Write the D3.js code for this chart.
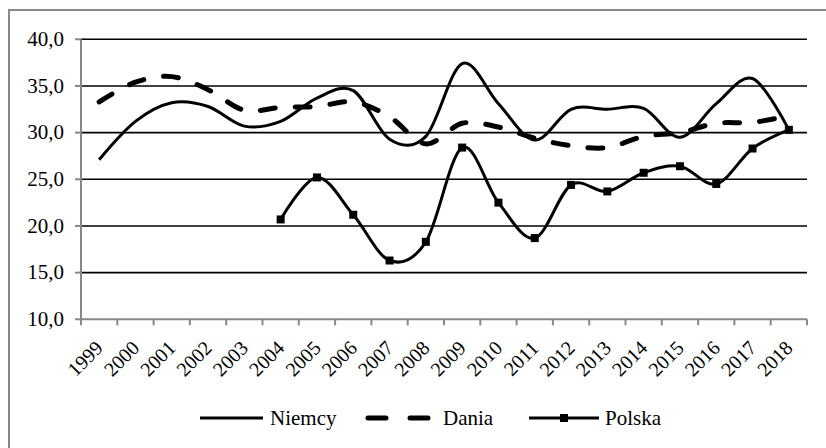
<!DOCTYPE html>
<html>
<head>
<meta charset="UTF-8">
<title>Niemcy, Dania, Polska</title>
<script src="https://d3js.org/d3.v7.min.js"></script>
<style>
  body { margin: 0; background: #fff; }
</style>
</head>
<body>
<svg id="chart" width="826" height="448" font-family="Liberation Serif"></svg>
<script>
// data
var years = ["1999","2000","2001","2002","2003","2004","2005","2006","2007","2008",
             "2009","2010","2011","2012","2013","2014","2015","2016","2017","2018"];
var niemcy = [27.1, 31.2, 33.2, 32.8, 30.7, 31.2, 33.7, 34.5, 29.3, 29.6,
              37.4, 33.1, 29.2, 32.5, 32.5, 32.6, 29.5, 33.1, 35.8, 30.3];
var dania  = [33.3, 35.4, 36.0, 34.6, 32.4, 32.7, 32.8, 33.3, 31.7, 28.8,
              31.0, 30.6, 29.4, 28.6, 28.4, 29.6, 30.0, 31.0, 31.1, 31.8];
var polska = [null, null, null, null, null, 20.7, 25.2, 21.2, 16.3, 18.3,
              28.4, 22.5, 18.7, 24.4, 23.7, 25.7, 26.4, 24.5, 28.3, 30.3];
var yTicks = [10, 15, 20, 25, 30, 35, 40];

var svg = d3.select("#chart");
var plotL = 81, plotR = 807, plotT = 39.3, plotB = 319.3;

// outer frame (only top and left edge visible in the picture)
svg.append("rect")
  .attr("x", 9).attr("y", 10)
  .attr("width", 900).attr("height", 500)
  .attr("fill", "none").attr("stroke", "#888").attr("stroke-width", 2);

var x = d3.scaleBand().domain(years).range([plotL, plotR]);
var y = d3.scaleLinear().domain([10, 40]).range([plotB, plotT]);
var fmt = function(d) { return d3.format(".1f")(d).replace(".", ","); };

// gridlines
svg.append("g").selectAll("line")
  .data(yTicks.filter(function(d) { return d > 10; }))
  .enter().append("line")
    .attr("x1", plotL).attr("x2", plotR)
    .attr("y1", function(d) { return y(d); })
    .attr("y2", function(d) { return y(d); })
    .attr("stroke", "#000").attr("stroke-width", 1.6);

// y axis labels and ticks, drawn by hand from the scale
var yAxis = svg.append("g");
yAxis.append("line")
  .attr("x1", plotL).attr("x2", plotL).attr("y1", plotT).attr("y2", plotB)
  .attr("stroke", "#888").attr("stroke-width", 2);
yAxis.selectAll(".tk").data(yTicks).enter().append("line")
  .attr("x1", plotL - 6).attr("x2", plotL)
  .attr("y1", function(d) { return y(d); }).attr("y2", function(d) { return y(d); })
  .attr("stroke", "#888").attr("stroke-width", 2);
yAxis.selectAll("text").data(yTicks).enter().append("text")
  .attr("x", plotL - 17)
  .attr("y", function(d) { return y(d); })
  .attr("dy", "0.32em")
  .attr("text-anchor", "end")
  .attr("font-family", "Liberation Serif")
  .attr("font-size", 21)
  .text(fmt);

// x axis, ticks on category boundaries
var xAxis = svg.append("g")
  .attr("transform", "translate(0," + plotB + ")");
xAxis.append("line")
  .attr("x1", plotL).attr("x2", plotR)
  .attr("stroke", "#888").attr("stroke-width", 2);
xAxis.selectAll(".tk")
  .data(years.concat(["end"]))
  .enter().append("line")
    .attr("x1", function(d, i) { return plotL + i * x.bandwidth(); })
    .attr("x2", function(d, i) { return plotL + i * x.bandwidth(); })
    .attr("y1", 0).attr("y2", 6)
    .attr("stroke", "#888").attr("stroke-width", 2);
xAxis.selectAll(".lbl")
  .data(years)
  .enter().append("text")
    .attr("text-anchor", "end")
    .attr("font-family", "Liberation Serif")
    .attr("font-size", 20)
    .attr("transform", function(d) {
      return "translate(" + (x(d) + x.bandwidth() / 2 + 5) + ",30) rotate(-45)";
    })
    .text(function(d) { return d; });

// series
var cx = function(d, i) { return x(years[i]) + x.bandwidth() / 2; };
var line = d3.line()
  .defined(function(d) { return d != null; })
  .x(cx)
  .y(function(d) { return y(d); })
  .curve(d3.curveCatmullRom.alpha(0));

svg.append("path").datum(niemcy)
  .attr("d", line).attr("fill", "none")
  .attr("stroke", "#000").attr("stroke-width", 3);

svg.append("path").datum(dania)
  .attr("d", line).attr("fill", "none")
  .attr("stroke", "#000").attr("stroke-width", 5)
  .attr("stroke-linecap", "round")
  .attr("stroke-dasharray", "15,20");

svg.append("path").datum(polska)
  .attr("d", line).attr("fill", "none")
  .attr("stroke", "#000").attr("stroke-width", 3);

svg.append("g").selectAll("rect")
  .data(polska.map(function(v, i) { return {v: v, i: i}; }).filter(function(d) { return d.v != null; }))
  .enter().append("rect")
    .attr("x", function(d) { return cx(d.v, d.i) - 4; })
    .attr("y", function(d) { return y(d.v) - 4; })
    .attr("width", 8).attr("height", 8)
    .attr("fill", "#000");

// legend
var legY = 418;
var leg = svg.append("g").attr("font-family", "Liberation Serif").attr("font-size", 21);
leg.append("line").attr("x1", 200).attr("x2", 263).attr("y1", legY).attr("y2", legY)
  .attr("stroke", "#000").attr("stroke-width", 3);
leg.append("text").attr("x", 270).attr("y", legY).attr("dy", "0.35em").text("Niemcy");

leg.append("line").attr("x1", 368).attr("x2", 428).attr("y1", legY).attr("y2", legY)
  .attr("stroke", "#000").attr("stroke-width", 5)
  .attr("stroke-linecap", "round").attr("stroke-dasharray", "18,24");
leg.append("text").attr("x", 443).attr("y", legY).attr("dy", "0.35em").text("Dania");

leg.append("line").attr("x1", 529).attr("x2", 599).attr("y1", legY).attr("y2", legY)
  .attr("stroke", "#000").attr("stroke-width", 3);
leg.append("rect").attr("x", 560).attr("y", legY - 4).attr("width", 8).attr("height", 8)
  .attr("fill", "#000");
leg.append("text").attr("x", 605).attr("y", legY).attr("dy", "0.35em").text("Polska");
</script>
</body>
</html>
